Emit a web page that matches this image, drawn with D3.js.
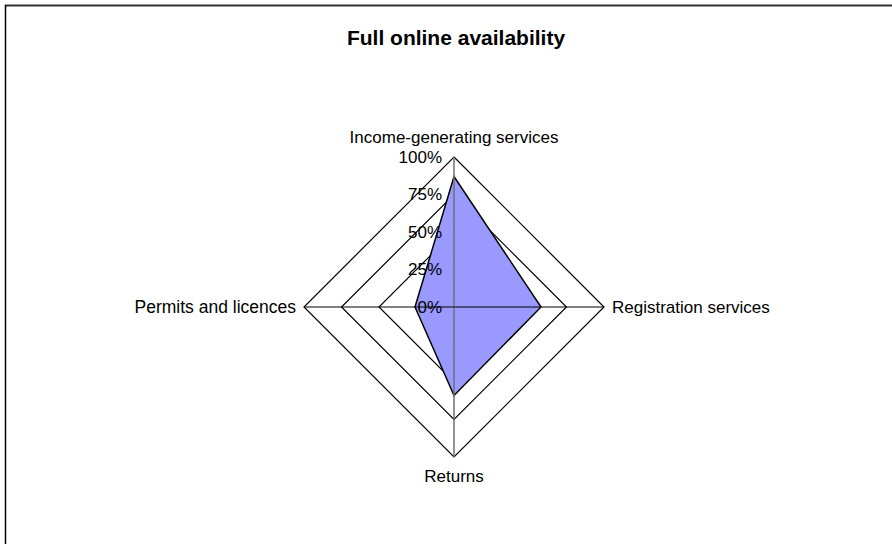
<!DOCTYPE html>
<html>
<head>
<meta charset="utf-8">
<script src="https://cdn.jsdelivr.net/npm/d3@7"></script>
<style>
	body { margin: 0; background: #fff; }
	text { font-family: Arial, "Liberation Sans", sans-serif; fill: #000; }
</style>
</head>
<body>
<svg id="chart"></svg>
<script>
// DATA

var categories = ["Income-generating services", "Registration services", "Returns", "Permits and licences"];
var values = [0.87, 0.58, 0.59, 0.26];
var tickValues = [0, 0.25, 0.5, 0.75, 1];
var tickLabels = ["0%", "25%", "50%", "75%", "100%"];
var chartTitle = "Full online availability";

// DIMENSIONS

var width = 892,
	height = 544,
	cx = 454,
	cy = 307,
	radius = 150;

var svg = d3.select("#chart")
	.attr('width', width)
	.attr('height', height);

// frame, running off the right and bottom edge like the original
svg.append('line')
	.attr('x1', 5).attr('y1', 5.5).attr('x2', width + 10).attr('y2', 5.5)
	.style('stroke', '#333').style('stroke-width', 2);
svg.append('line')
	.attr('x1', 5.5).attr('y1', 5).attr('x2', 5.5).attr('y2', height + 10)
	.style('stroke', '#000').style('stroke-width', 1.5);

svg.append('text')
	.attr('x', cx + 2)
	.attr('y', 45)
	.attr('text-anchor', 'middle')
	.style('font-weight', 'bold')
	.style('font-size', '21px')
	.text(chartTitle);

// SCALES

var rScale = d3.scaleLinear()
	.domain([0, 1])
	.range([0, radius]);

var angle = d3.scaleLinear()
	.domain([0, categories.length])
	.range([0, 2 * Math.PI]);

var g = svg.append('g')
	.attr('transform', 'translate(' + cx + ',' + cy + ')');

var radial = d3.lineRadial()
	.angle(function(d, i) { return angle(i); })
	.curve(d3.curveLinearClosed);

// grid rings
g.selectAll('.ring').data(tickValues.slice(1))
	.enter().append('path')
	.attr('class', 'ring')
	.attr('d', function(t) {
		return radial.radius(function() { return rScale(t); })(categories);
	})
	.style('fill', 'none')
	.style('stroke', '#000')
	.style('stroke-width', 1.2);

// series
g.append('path')
	.datum(values)
	.attr('d', radial.radius(function(d) { return rScale(d); }))
	.style('fill', '#9999ff')
	.style('stroke', '#000')
	.style('stroke-width', 1.5)
	.style('stroke-linejoin', 'miter');

// spokes
g.selectAll('.spoke').data(categories)
	.enter().append('line')
	.attr('class', 'spoke')
	.attr('x1', 0).attr('y1', 0)
	.attr('x2', function(d, i) { return rScale(1) * Math.sin(angle(i)); })
	.attr('y2', function(d, i) { return -rScale(1) * Math.cos(angle(i)); })
	.style('stroke', function(d, i) { return i % 2 === 0 ? '#707070' : '#000'; })
	.style('stroke-width', function(d, i) { return i % 2 === 0 ? 1.5 : 1; });

// value axis labels
g.selectAll('.tick').data(tickValues)
	.enter().append('text')
	.attr('class', 'tick')
	.attr('x', -12)
	.attr('y', function(d) { return -rScale(d); })
	.attr('dy', '0.35em')
	.attr('text-anchor', 'end')
	.style('font-size', '17px')
	.text(function(d, i) { return tickLabels[i]; });

// category labels
var labelPos = [
	{ dx: 0, dy: -14, anchor: 'middle', base: 'auto' },
	{ dx: 8, dy: 0, anchor: 'start', base: 'middle' },
	{ dx: 0, dy: 13, anchor: 'middle', base: 'hanging' },
	{ dx: -8, dy: 0, anchor: 'end', base: 'middle' }
];

g.selectAll('.cat').data(categories)
	.enter().append('text')
	.attr('class', 'cat')
	.attr('x', function(d, i) { return (rScale(1) * Math.sin(angle(i))) + labelPos[i].dx; })
	.attr('y', function(d, i) { return (-rScale(1) * Math.cos(angle(i))) + labelPos[i].dy; })
	.attr('dy', function(d, i) { return labelPos[i].base === 'middle' ? '0.35em' : (labelPos[i].base === 'hanging' ? '0.7em' : 0); })
	.attr('text-anchor', function(d, i) { return labelPos[i].anchor; })
	.style('font-size', function(d, i) { return i === 3 ? '17.5px' : '17px'; })
	.text(function(d) { return d; });
</script>
</body>
</html>
